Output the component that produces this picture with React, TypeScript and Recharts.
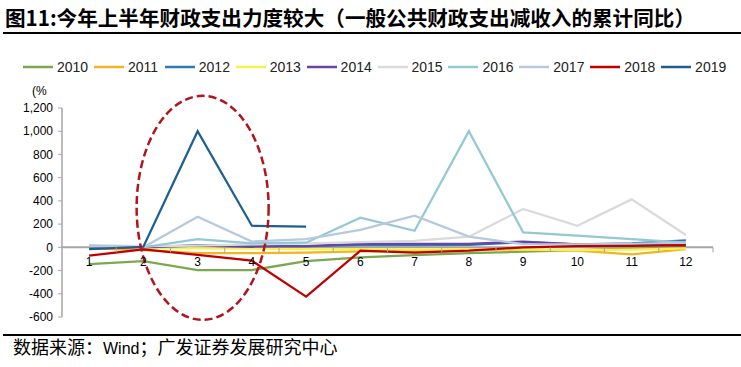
import React from 'react';
import { LineChart, Line, XAxis, YAxis, ReferenceLine, ReferenceDot, Legend } from 'recharts';

const MONTHS = ['1', '2', '3', '4', '5', '6', '7', '8', '9', '10', '11', '12'];

const Y2010 = [-144, -118, -196, -196, -118, -86, -68, -50, -38, -25, -12, -3];
const Y2011 = [-10, -25, -50, -50, -45, -35, -30, -25, -20, -28, -60, -15];
const Y2012 = [5, 0, 20, 15, 10, 20, 20, 22, 45, 25, 35, 60];
const Y2013 = [0, -5, -10, -12, -15, -15, -20, -15, -20, -25, -20, -10];
const Y2014 = [-10, 0, 15, 5, 10, 30, 30, 30, 50, 25, 25, 15];
const Y2015 = [20, 10, 15, 25, 35, 45, 55, 92, 330, 186, 413, 106];
const Y2016 = [15, 0, 70, 35, 40, 255, 143, 1000, 129, 100, 70, 40];
const Y2017 = [10, 0, 264, 50, 70, 150, 272, 92, 28, 25, 30, 40];
const Y2018 = [-72, -17, -65, -115, -425, -29, -46, -29, 0, 11, 13, 20];
const Y2019 = [-15, 5, 1000, 186, 178, null, null, null, null, null, null, null];

const SERIES = [
  { key: '2010', color: '#7aa851', values: Y2010 },
  { key: '2011', color: '#f2b422', values: Y2011 },
  { key: '2012', color: '#2c7bb6', values: Y2012 },
  { key: '2013', color: '#f8f34c', values: Y2013 },
  { key: '2014', color: '#6a44a3', values: Y2014 },
  { key: '2015', color: '#dadada', values: Y2015 },
  { key: '2016', color: '#93c8d4', values: Y2016 },
  { key: '2017', color: '#b6c9de', values: Y2017 },
  { key: '2018', color: '#c00000', values: Y2018 },
  { key: '2019', color: '#1f5f8e', values: Y2019 },
];

const Y_TICKS = [-600, -400, -200, 0, 200, 400, 600, 800, 1000, 1200];
const Y_MIN = -600;
const Y_MAX = 1200;

const W = 741;
const H = 367;
const MARGIN = { top: 108, right: 28, bottom: 20, left: 12 };
const Y_AXIS_W = 50;
const X_AXIS_H = 30;
const PLOT_W = W - MARGIN.left - Y_AXIS_W - MARGIN.right;
const PLOT_H = H - MARGIN.top - MARGIN.bottom - X_AXIS_H;
const ZERO_FROM_BOTTOM = (PLOT_H * (0 - Y_MIN)) / (Y_MAX - Y_MIN);
const BAND = PLOT_W / MONTHS.length;

const data = MONTHS.map((m, i) => {
  const row: Record<string, any> = { month: m };
  SERIES.forEach((s) => {
    row[s.key] = s.values[i] ?? null;
  });
  return row;
});

const fmt = (v: number) => v.toLocaleString('en-US');

function XTick(props: any) {
  const { x, y, payload, index } = props;
  const zy = y - ZERO_FROM_BOTTOM;
  const left = x - BAND / 2;
  return (
    <g>
      {index > 0 && <line x1={left} y1={zy} x2={left} y2={zy + 5} stroke="#a6a6a6" strokeWidth={1} />}
      {index === MONTHS.length - 1 && (
        <line x1={x + BAND / 2} y1={zy} x2={x + BAND / 2} y2={zy + 5} stroke="#a6a6a6" strokeWidth={1} />
      )}
      <text x={x} y={zy + 19} textAnchor="middle" fontSize={12} fontFamily="Liberation Sans, Arial" fill="#000">
        {payload.value}
      </text>
    </g>
  );
}

const renderLegend = () => (
  <div style={{ position: 'relative', width: W, height: 20 }}>
    {SERIES.map((s, i) => (
      <div
        key={s.key}
        style={{ position: 'absolute', left: 23 + i * 70.9, top: 0, height: 20, display: 'flex', alignItems: 'center' }}
      >
        <svg width={30} height={4} style={{ display: 'block' }}>
          <line x1={0} y1={2} x2={30} y2={2} stroke={s.color} strokeWidth={2.5} />
        </svg>
        <span style={{ marginLeft: 4, fontSize: 14, fontFamily: 'Liberation Sans, Arial', color: '#222', lineHeight: '20px' }}>
          {s.key}
        </span>
      </div>
    ))}
  </div>
);

const Ellipse = (p: any) => (
  <ellipse
    cx={p.cx + 5}
    cy={p.cy}
    rx={66}
    ry={112}
    fill="none"
    stroke="#b3141c"
    strokeWidth={2.5}
    strokeDasharray="8 4"
  />
);

export default function App() {
  return (
    <div style={{ position: 'absolute', left: 0, top: 0, width: W, height: H, background: '#fff', overflow: 'hidden' }}>
      <div
        style={{
          position: 'absolute',
          left: 5,
          top: 5,
          fontSize: 20.6,
          lineHeight: '24px',
          fontWeight: 'bold',
          fontFamily: 'Noto Sans CJK SC, sans-serif',
          color: '#000',
          whiteSpace: 'nowrap',
        }}
      >
        图11:今年上半年财政支出力度较大（一般公共财政支出减收入的累计同比）
      </div>
      <div style={{ position: 'absolute', left: 3, top: 32, width: W, height: 2, background: '#000' }} />
      <div style={{ position: 'absolute', left: 3, top: 334, width: W, height: 2, background: '#000' }} />
      <div
        style={{
          position: 'absolute',
          left: 13,
          top: 336,
          fontSize: 18,
          lineHeight: '20px',
          fontFamily: 'Noto Sans CJK SC, sans-serif',
          color: '#000',
          whiteSpace: 'nowrap',
        }}
      >
        数据来源：<span style={{ fontFamily: 'Liberation Sans, Arial', fontSize: 16 }}>Wind</span>；广发证券发展研究中心
      </div>
      <div
        style={{
          position: 'absolute',
          left: 32,
          top: 83,
          fontSize: 12,
          lineHeight: '16px',
          fontFamily: 'Liberation Sans, Arial',
          color: '#000',
        }}
      >
        (%
      </div>
      <div style={{ position: 'absolute', left: 0, top: 0 }}>
        <LineChart width={W} height={H} data={data} margin={MARGIN} style={{ fontFamily: 'Liberation Sans, Arial' }}>
          <Legend
            layout="horizontal"
            verticalAlign="middle"
            align="center"
            content={renderLegend}
            wrapperStyle={{ top: 57, left: 0, width: W, height: 20 }}
          />
          <YAxis
            width={Y_AXIS_W}
            domain={[Y_MIN, Y_MAX]}
            ticks={Y_TICKS}
            interval={0}
            tickFormatter={fmt}
            axisLine={{ stroke: '#a6a6a6', strokeWidth: 1.5 }}
            tickLine={{ stroke: '#a6a6a6' }}
            tickSize={4}
            tickMargin={5}
            tick={{ fontSize: 12, fill: '#000', fontFamily: 'Liberation Sans, Arial' }}
          />
          <XAxis
            dataKey="month"
            scale="band"
            height={X_AXIS_H}
            axisLine={false}
            tickLine={false}
            tickSize={0}
            tickMargin={0}
            interval={0}
            tick={<XTick />}
          />
          <ReferenceLine y={0} stroke="#a6a6a6" strokeWidth={2} />
          {SERIES.map((s) => (
            <Line
              key={s.key}
              type="linear"
              dataKey={s.key}
              stroke={s.color}
              strokeWidth={2.25}
              dot={false}
              activeDot={false}
              connectNulls={false}
              isAnimationActive={false}
            />
          ))}
          <ReferenceDot x="3" y={340} r={0} ifOverflow="visible" shape={Ellipse} />
        </LineChart>
      </div>
    </div>
  );
}
